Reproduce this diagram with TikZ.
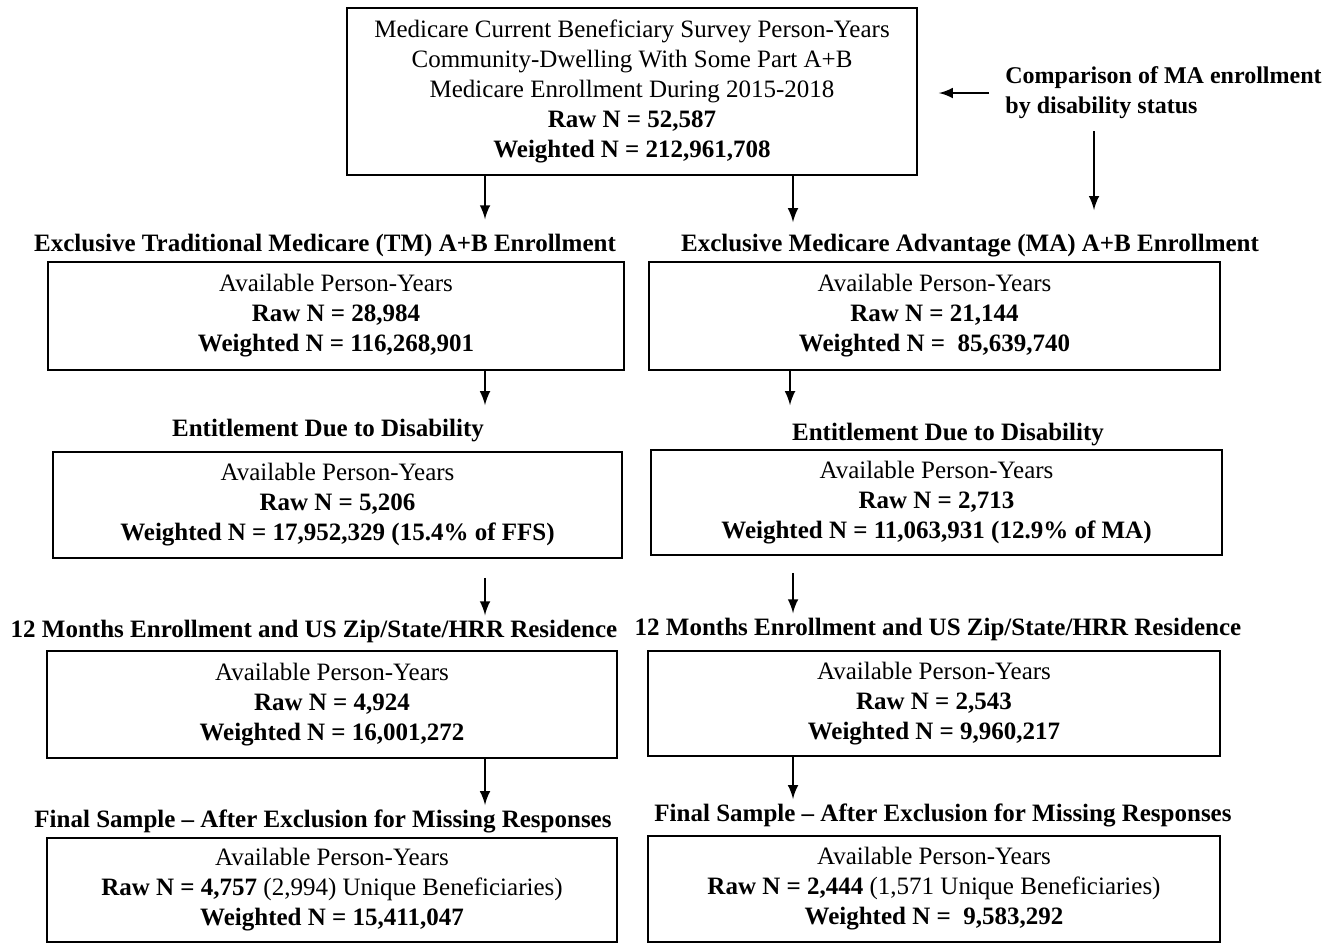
\documentclass[tikz,border=0pt]{standalone}
\usepackage{fontspec}
\setmainfont{Liberation Serif}
\usetikzlibrary{arrows,calc,positioning}

\begin{document}
\begin{tikzpicture}[x=0.5pt,y=-0.5pt,
            box/.style={draw, line width=0.9pt, align=center, inner sep=0pt,
                        font=\fontsize{12.5}{15}\selectfont},
            head/.style={font=\bfseries\fontsize{12.5}{15}\selectfont, inner sep=1pt},
            arr/.style={->, >=latex, line width=1.4pt}
            ]
            \useasboundingbox (0,0) rectangle (1332,944);
            % top box and side note
            \node[box, minimum width=285pt, minimum height=83.5pt] (mcbs) at (632,91.5)
                {Medicare Current Beneficiary Survey Person-Years\\
                 Community-Dwelling With Some Part A+B\\
                 Medicare Enrollment During 2015-2018\\
                 \textbf{Raw N = 52,587}\\
                 \textbf{Weighted N = 212,961,708}};
            \node[head, font=\bfseries\fontsize{12}{15}\selectfont, anchor=west, align=left] (cmp) at (1003,93)
                {Comparison of MA enrollment\\by disability status};
            \coordinate (cmpend) at (1094,210);
            % traditional medicare column
            \node[head] (tmh1) at (325,245) {Exclusive Traditional Medicare (TM) A+B Enrollment};
            \node[box, minimum width=288pt, minimum height=54pt] (tm1) at (336,316)
                {Available Person-Years\\ \textbf{Raw N = 28,984}\\ \textbf{Weighted N = 116,268,901}};
            \node[head] (tmh2) at (328,431) {Entitlement Due to Disability};
            \node[box, minimum width=284.5pt, minimum height=53pt] (tm2) at (337.5,505)
                {Available Person-Years\\ \textbf{Raw N = 5,206}\\ \textbf{Weighted N = 17,952,329 (15.4\% of FFS)}};
            \node[head] (tmh3) at (314,631) {12 Months Enrollment and US Zip/State/HRR Residence};
            \node[box, minimum width=285pt, minimum height=53.5pt] (tm3) at (332,704.5)
                {Available Person-Years\\ \textbf{Raw N = 4,924}\\ \textbf{Weighted N = 16,001,272}};
            \node[head] (tmh4) at (323,821) {Final Sample -- After Exclusion for Missing Responses};
            \node[box, minimum width=285pt, minimum height=52pt] (tm4) at (332,890)
                {Available Person-Years\\ \textbf{Raw N = 4,757} (2,994) Unique Beneficiaries)\\ \textbf{Weighted N = 15,411,047}};
            % medicare advantage column
            \node[head] (mah1) at (970,246) {Exclusive Medicare Advantage (MA) A+B Enrollment};
            \node[box, minimum width=285.5pt, minimum height=54pt] (ma1) at (934.5,316)
                {Available Person-Years\\ \textbf{Raw N = 21,144}\\ \textbf{Weighted N = \ 85,639,740}};
            \node[head] (mah2) at (948,435) {Entitlement Due to Disability};
            \node[box, minimum width=285.5pt, minimum height=52.5pt] (ma2) at (936.5,502.5)
                {Available Person-Years\\ \textbf{Raw N = 2,713}\\ \textbf{Weighted N = 11,063,931 (12.9\% of MA)}};
            \node[head] (mah3) at (938,629) {12 Months Enrollment and US Zip/State/HRR Residence};
            \node[box, minimum width=286pt, minimum height=52.5pt] (ma3) at (934,703.5)
                {Available Person-Years\\ \textbf{Raw N = 2,543}\\ \textbf{Weighted N = 9,960,217}};
            \node[head] (mah4) at (943,815) {Final Sample -- After Exclusion for Missing Responses};
            \node[box, minimum width=286pt, minimum height=53pt] (ma4) at (934,889)
                {Available Person-Years\\ \textbf{Raw N = 2,444} (1,571 Unique Beneficiaries)\\ \textbf{Weighted N = \ 9,583,292}};
            % arrows
            \coordinate (lx) at (485,0);
            \coordinate (rx) at (793,0);
            \draw[arr] (mcbs.south -| lx) -- ([yshift=6pt]tmh1.north -| lx);
            \draw[arr] (mcbs.south -| rx) -- ([yshift=5pt]mah1.north -| rx);
            \draw[arr] ([xshift=-7pt]cmp.west) -- ([xshift=10.5pt]mcbs.east |- cmp.west);
            \draw[arr] ([yshift=-5pt]cmp.south -| cmpend) -- (cmpend);
            \draw[arr] (tm1.south -| lx) -- ([yshift=6pt]tmh2.north -| lx);
            \draw[arr] (ma1.south -| {(790,0)}) -- ([yshift=8pt]mah2.north -| {(790,0)});
            \draw[arr, shorten <=9.5pt] (tm2.south -| lx) -- ([yshift=1pt]tmh3.north -| lx);
            \draw[arr, shorten <=8.5pt] (ma2.south -| rx) -- ([yshift=1pt]mah3.north -| rx);
            \draw[arr] (tm3.south -| lx) -- ([yshift=1pt]tmh4.north -| lx);
            \draw[arr] (ma3.south -| rx) -- ([yshift=1pt]mah4.north -| rx);
        \end{tikzpicture}
\end{document}
